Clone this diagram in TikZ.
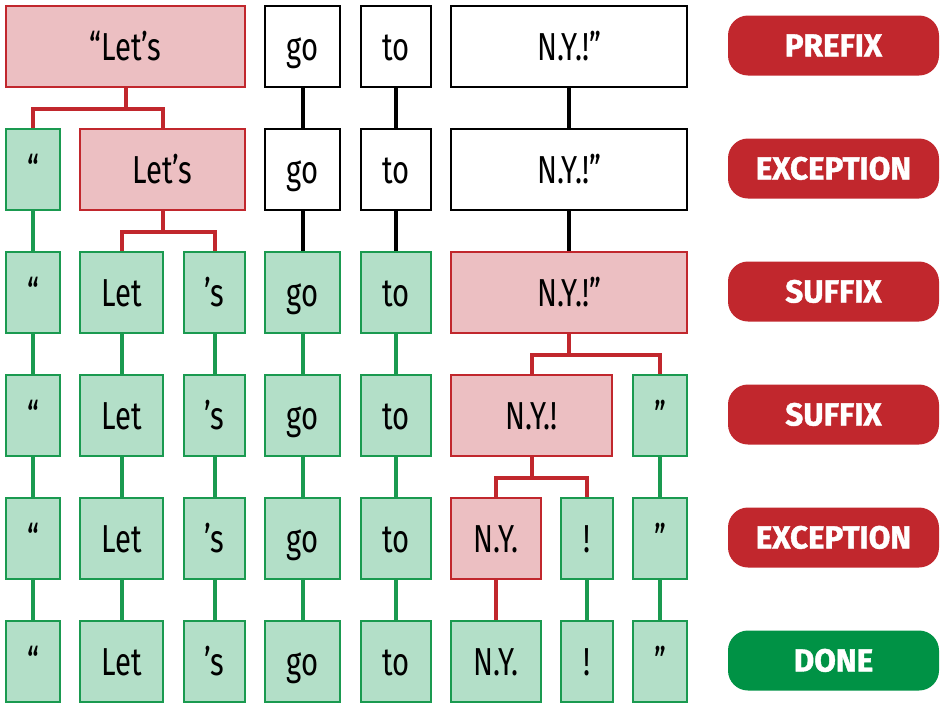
\documentclass[tikz,border=0pt]{standalone}
\usepackage{fontspec}
\setmainfont{Fira Sans}[FakeStretch=0.75]
\newfontfamily\pillfont{Fira Sans}[UprightFont=* Bold,FakeStretch=0.98,FakeBold=1.2]
\usetikzlibrary{calc,backgrounds}
\definecolor{rstroke}{HTML}{C1272D}
\definecolor{rfill}{HTML}{ECBFC2}
\definecolor{gstroke}{HTML}{1A9A50}
\definecolor{gfill}{HTML}{B3DFC8}
\definecolor{gpill}{HTML}{009245}
\tikzset{
  tok/.style={draw, line width=2.2pt, anchor=north west, minimum height=81pt, inner sep=0pt,
    font=\fontsize{39}{42}\selectfont, text height=27pt, text depth=0pt},
  wbox/.style={tok, draw=black, fill=white},
  rbox/.style={tok, draw=rstroke, fill=rfill},
  gbox/.style={tok, draw=gstroke, fill=gfill},
  conn/.style={line width=4pt, line join=miter},
  rline/.style={conn, draw=rstroke},
  gline/.style={conn, draw=gstroke},
  kline/.style={conn, draw=black},
  pill/.style={rounded corners=20pt, minimum width=211pt, minimum height=60pt, inner sep=0pt,
    text=white, font=\pillfont\fontsize{32}{36}\selectfont, text height=22pt, text depth=0pt},
  rpill/.style={pill, fill=rstroke},
  gpill/.style={pill, fill=gpill},
}
\begin{document}
\begin{tikzpicture}[x=1pt,y=-1pt]
\useasboundingbox (0,0) rectangle (945,707);
% row 1
\node[rbox, minimum width=239pt] (r1a) at (5,5) {“Let’s};
\node[wbox, minimum width=75pt] (r1go) at (264,5) {go};
\node[wbox, minimum width=70pt] (r1to) at (360,5) {to};
\node[wbox, minimum width=236pt] (r1ny) at (450,5) {N.Y.!”};
% row 2
\node[gbox, minimum width=54pt] (r2q) at (5,128) {“};
\node[rbox, minimum width=165pt] (r2l) at (79,128) {Let’s};
\node[wbox, minimum width=75pt] (r2go) at (264,128) {go};
\node[wbox, minimum width=70pt] (r2to) at (360,128) {to};
\node[wbox, minimum width=236pt] (r2ny) at (450,128) {N.Y.!”};
% row 3
\node[gbox, minimum width=54pt] (r3q) at (5,251) {“};
\node[gbox, minimum width=83pt] (r3l) at (79,251) {Let};
\node[gbox, minimum width=61pt] (r3s) at (183,251) {'s};
\node[gbox, minimum width=75pt] (r3go) at (264,251) {go};
\node[gbox, minimum width=70pt] (r3to) at (360,251) {to};
\node[rbox, minimum width=236pt] (r3ny) at (450,251) {N.Y.!”};
% row 4
\node[gbox, minimum width=54pt] (r4q) at (5,374) {“};
\node[gbox, minimum width=83pt] (r4l) at (79,374) {Let};
\node[gbox, minimum width=61pt] (r4s) at (183,374) {'s};
\node[gbox, minimum width=75pt] (r4go) at (264,374) {go};
\node[gbox, minimum width=70pt] (r4to) at (360,374) {to};
\node[rbox, minimum width=161pt] (r4ny) at (450,374) {N.Y.!};
\node[gbox, minimum width=54pt] (r4e) at (632,374) {”};
% row 5
\node[gbox, minimum width=54pt] (r5q) at (5,497) {“};
\node[gbox, minimum width=83pt] (r5l) at (79,497) {Let};
\node[gbox, minimum width=61pt] (r5s) at (183,497) {'s};
\node[gbox, minimum width=75pt] (r5go) at (264,497) {go};
\node[gbox, minimum width=70pt] (r5to) at (360,497) {to};
\node[rbox, minimum width=90pt] (r5ny) at (450,497) {N.Y.};
\node[gbox, minimum width=52pt] (r5x) at (560,497) {!};
\node[gbox, minimum width=54pt] (r5e) at (632,497) {”};
% row 6
\node[gbox, minimum width=54pt] (r6q) at (5,620) {“};
\node[gbox, minimum width=83pt] (r6l) at (79,620) {Let};
\node[gbox, minimum width=61pt] (r6s) at (183,620) {'s};
\node[gbox, minimum width=75pt] (r6go) at (264,620) {go};
\node[gbox, minimum width=70pt] (r6to) at (360,620) {to};
\node[gbox, minimum width=90pt] (r6ny) at (450,620) {N.Y.};
\node[gbox, minimum width=52pt] (r6x) at (560,620) {!};
\node[gbox, minimum width=54pt] (r6e) at (632,620) {”};
% pills
\node[rpill] (p1) at (833.5,45.5) {PREFIX};
\node[rpill] (p2) at (833.5,168.5) {EXCEPTION};
\node[rpill] (p3) at (833.5,291.5) {SUFFIX};
\node[rpill] (p4) at (833.5,414.5) {SUFFIX};
\node[rpill] (p5) at (833.5,537.5) {EXCEPTION};
\node[gpill] (p6) at (833.5,660.5) {DONE};
% connectors
\begin{scope}[on background layer]
\coordinate (m1) at ($(r1a.south)+(0,21)$);
\draw[rline] (r1a.south) -- (m1);
\draw[rline] (r2q.north) |- (m1) -| (r2l.north);
\draw[kline] (r1go) -- (r2go);
\draw[kline] (r1to) -- (r2to);
\draw[kline] (r1ny) -- (r2ny);
\coordinate (m2) at ($(r2l.south)+(0,21)$);
\draw[rline] (r2l.south) -- (m2);
\draw[rline] (r3l.north) |- (m2) -| (r3s.north);
\draw[gline] (r2q) -- (r3q);
\draw[kline] (r2go) -- (r3go);
\draw[kline] (r2to) -- (r3to);
\draw[kline] (r2ny) -- (r3ny);
\coordinate (m3) at ($(r3ny.south)+(0,21)$);
\draw[rline] (r3ny.south) -- (m3);
\draw[rline] (r4ny.north) |- (m3) -| (r4e.north);
\draw[gline] (r3q) -- (r4q);
\draw[gline] (r3l) -- (r4l);
\draw[gline] (r3s) -- (r4s);
\draw[gline] (r3go) -- (r4go);
\draw[gline] (r3to) -- (r4to);
\coordinate (m4) at ($(r4ny.south)+(0,21)$);
\draw[rline] (r4ny.south) -- (m4);
\draw[rline] (r5ny.north) |- (m4) -| (r5x.north);
\draw[gline] (r4q) -- (r5q);
\draw[gline] (r4l) -- (r5l);
\draw[gline] (r4s) -- (r5s);
\draw[gline] (r4go) -- (r5go);
\draw[gline] (r4to) -- (r5to);
\draw[gline] (r4e) -- (r5e);
\draw[gline] (r5q) -- (r6q);
\draw[gline] (r5l) -- (r6l);
\draw[gline] (r5s) -- (r6s);
\draw[gline] (r5go) -- (r6go);
\draw[gline] (r5to) -- (r6to);
\draw[rline] (r5ny) -- (r6ny);
\draw[gline] (r5x) -- (r6x);
\draw[gline] (r5e) -- (r6e);
\end{scope}
\end{tikzpicture}
\end{document}
